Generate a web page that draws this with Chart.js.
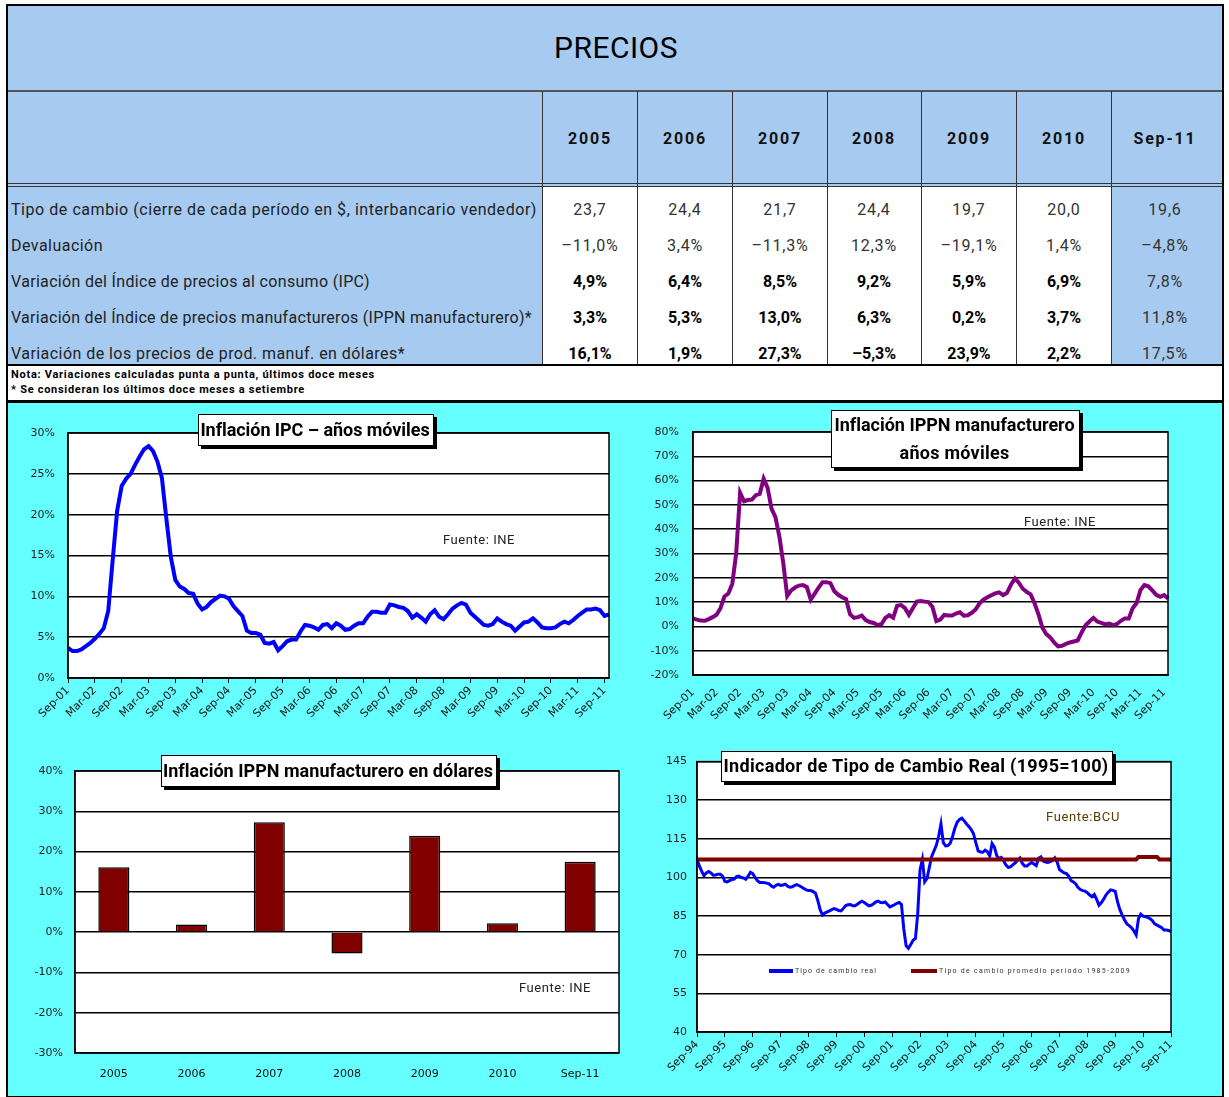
<!DOCTYPE html>
<html>
<head>
<meta charset="utf-8">
<script src="https://cdn.jsdelivr.net/npm/chart.js@4.4.0/dist/chart.umd.min.js"></script>
<style>
  body { margin: 0; width: 1229px; height: 1097px; position: relative; background: #fff; overflow: hidden; font-family: Roboto, "Noto Sans", sans-serif; }
  canvas { position: absolute; }
</style>
</head>
<body>
<script>
// ---- tabla ----
const years = ["2005", "2006", "2007", "2008", "2009", "2010", "Sep-11"];
const rowLabels = [
  "Tipo de cambio (cierre de cada período en $, interbancario vendedor)",
  "Devaluación",
  "Variación del Índice de precios al consumo (IPC)",
  "Variación del Índice de precios manufactureros (IPPN manufacturero)*",
  "Variación de los precios de prod. manuf. en dólares*"
];
const tipoCambio = [23.7, 24.4, 21.7, 24.4, 19.7, 20.0, 19.6];
const devaluacion = [-11.0, 3.4, -11.3, 12.3, -19.1, 1.4, -4.8];
const ipcVar = [4.9, 6.4, 8.5, 9.2, 5.9, 6.9, 7.8];
const ippnVar = [3.3, 5.3, 13.0, 6.3, 0.2, 3.7, 11.8];
const ippnUsdVar = [16.1, 1.9, 27.3, -5.3, 23.9, 2.2, 17.5];
const notas = [
  "Nota: Variaciones calculadas punta a punta, últimos doce meses",
  "* Se consideran los últimos doce meses a setiembre"
];

// ---- series mensuales ----
// Inflación IPC, años móviles (%), Sep-01 .. Oct-11
const ipcAnual = [
  3.7, 3.3, 3.3, 3.5, 3.9, 4.3, 4.8, 5.4, 6.1, 8.2,
  14.5, 20.5, 23.5, 24.4, 25.0, 26.1, 27.1, 28.0, 28.4, 27.8,
  26.5, 24.5, 19.5, 14.8, 12.0, 11.2, 10.9, 10.4, 10.3, 9.1,
  8.4, 8.7, 9.3, 9.7, 10.1, 10.0, 9.7, 8.8, 8.2, 7.6,
  5.8, 5.5, 5.5, 5.3, 4.3, 4.2, 4.4, 3.4, 3.9, 4.5,
  4.7, 4.7, 5.7, 6.5, 6.4, 6.2, 5.9, 6.5, 6.6, 6.1,
  6.7, 6.4, 5.9, 6.0, 6.4, 6.7, 6.7, 7.5, 8.1, 8.1,
  8.0, 8.0, 9.0, 8.9, 8.7, 8.6, 8.2, 7.4, 7.8, 7.4,
  6.9, 7.8, 8.3, 7.5, 7.2, 7.8, 8.5, 8.9, 9.2, 9.0,
  8.0, 7.5, 7.0, 6.5, 6.4, 6.6, 7.3, 6.9, 6.6, 6.4,
  5.8, 6.3, 6.8, 6.9, 7.3, 6.8, 6.2, 6.1, 6.1, 6.2,
  6.6, 6.9, 6.7, 7.1, 7.6, 8.0, 8.4, 8.4, 8.5, 8.3,
  7.6, 7.8
];
// Inflación IPPN manufacturero, años móviles (%), Sep-01 .. Oct-11
const ippnAnual = [
  3.3, 2.8, 2.4, 2.3, 3.0, 3.8, 4.8, 7.5, 12.3, 13.5,
  17.5, 30.0, 55.0, 51.5, 52.0, 52.2, 54.0, 54.5, 60.8, 57.0,
  48.5, 45.0, 37.0, 26.0, 12.5, 14.8, 16.0, 16.8, 17.0, 16.2,
  11.0, 13.5, 16.0, 18.2, 18.2, 17.8, 14.5, 13.0, 12.0, 11.2,
  5.0, 3.5, 3.8, 4.4, 2.6, 1.8, 1.4, 0.6, 0.9, 3.5,
  4.6, 3.6, 8.5, 8.8, 7.5, 4.8, 7.5, 10.2, 10.4, 10.2,
  10.0, 8.0, 2.2, 2.8, 4.7, 4.5, 4.5, 5.3, 5.8, 4.4,
  4.6, 5.6, 7.0, 9.5, 11.0, 12.0, 12.8, 13.6, 14.0, 12.9,
  13.8, 17.2, 19.7, 18.0, 15.5, 14.2, 13.2, 9.5, 5.0, -0.5,
  -3.2, -4.5, -6.6, -8.2, -8.0, -7.2, -6.6, -6.2, -5.8, -2.5,
  0.5, 2.0, 3.5, 2.0, 1.4, 0.8, 1.2, 0.5, 1.0, 2.3,
  3.3, 3.3, 7.5, 9.6, 15.0, 17.0, 16.5, 14.8, 13.0, 12.2,
  12.9, 11.5
];
// Indicador de tipo de cambio real (1995=100), Sep-94 .. Sep-11
const tcReal = [
  107, 104.5, 102.5, 100.7, 101.8, 102.3, 101.8, 100.9, 101.0, 101.3,
  101.3, 100.5, 98.5, 98.3, 98.8, 99.2, 99.4, 100.3, 100.5, 100,
  99.8, 99.3, 100.5, 102.0, 101.5, 100, 98.8, 98.1, 98.1, 98.0,
  97.8, 97.5, 96.7, 96.2, 97.0, 97.3, 96.9, 97.1, 97.4, 96.6,
  96.2, 96.4, 96.9, 97.2, 96.8, 96.3, 95.7, 95.2, 94.9, 94.9,
  94.5, 93.9, 91.0, 87.5, 85.4, 86.2, 86.6, 87.0, 87.5, 87.9,
  87.6, 87.2, 87.0, 88.0, 89.1, 89.4, 89.5, 89.0, 89.0, 89.6,
  90.3, 90.8, 90.3, 89.6, 89.0, 89.2, 89.8, 90.5, 90.8, 90.3,
  90.2, 90.5, 89.5, 88.6, 89.0, 89.4, 90.0, 90.3, 89.5, 80.0,
  73.5, 72.5, 74.0, 75.6, 76.3, 86.0, 103.0, 107.0, 98.3, 99.6,
  104.0, 108.2, 110.3, 112.5, 116.0, 120.8, 113.5, 112.3, 112.4, 113.3,
  116.0, 119.2, 121.5, 122.5, 123.0, 122.0, 120.8, 119.8, 118.6, 117.0,
  113.5, 110.3, 109.9, 109.8, 110.6, 110.0, 108.3, 113.2, 111.8, 108.5,
  107.3, 107.8, 106.4, 104.8, 103.9, 104.2, 105.0, 105.7, 106.8, 107.6,
  105.5, 104.5, 104.5, 105.2, 105.8, 105.2, 104.6, 107.5, 108.0, 106.4,
  106.0, 105.8, 106.2, 106.6, 107.6, 106.0, 103.1, 102.4, 101.8, 101.5,
  100.5, 98.8, 98.3, 97.5, 96.1, 95.3, 94.9, 94.7, 94.1, 93.2,
  92.5, 93.4, 91.5, 89.2, 90.2, 91.6, 93.2, 94.3, 95.2, 95.0,
  94.6, 90.5, 87.5, 85.4, 83.5, 82.0, 81.3, 80.5, 79.3, 77.7,
  84.0, 85.8, 85.0, 84.7, 84.5, 84.0, 83.2, 82.0, 81.5, 81.0,
  80.5, 79.6, 79.6, 79.4, 79.0
];
// Tipo de cambio promedio período 1985-2009
const tcPromedio = [
  107, 107, 107, 107, 107, 107, 107, 107, 107, 107, 107, 107, 107, 107, 107, 107, 107, 107, 107,
  107, 107, 107, 107, 107, 107, 107, 107, 107, 107, 107, 107, 107, 107, 107, 107, 107, 107, 107,
  107, 107, 107, 107, 107, 107, 107, 107, 107, 107, 107, 107, 107, 107, 107, 107, 107, 107, 107,
  107, 107, 107, 107, 107, 107, 107, 107, 107, 107, 107, 107, 107, 107, 107, 107, 107, 107, 107,
  107, 107, 107, 107, 107, 107, 107, 107, 107, 107, 107, 107, 107, 107, 107, 107, 107, 107, 107,
  107, 107, 107, 107, 107, 107, 107, 107, 107, 107, 107, 107, 107, 107, 107, 107, 107, 107, 107,
  107, 107, 107, 107, 107, 107, 107, 107, 107, 107, 107, 107, 107, 107, 107, 107, 107, 107, 107,
  107, 107, 107, 107, 107, 107, 107, 107, 107, 107, 107, 107, 107, 107, 107, 107, 107, 107, 107,
  107, 107, 107, 107, 107, 107, 107, 107, 107, 107, 107, 107, 107, 107, 107, 107, 107, 107, 107,
  107, 107, 107, 107, 107, 107, 107, 107, 107, 107, 107, 107, 107, 107, 107, 107, 107, 107, 107,
  108, 108, 108, 108, 108, 108, 108, 108, 108,
  107, 107, 107, 107, 107, 107
];

const mesesAbr = ["Ene", "Feb", "Mar", "Abr", "May", "Jun", "Jul", "Ago", "Sep", "Oct", "Nov", "Dic"];
function mesesDesde(anio, mes, n) {
  const out = [];
  for (let i = 0; i < n; i++) {
    const m = (mes + i) % 12;
    const a = anio + Math.floor((mes + i) / 12);
    out.push(mesesAbr[m] + "-" + String(a % 100).padStart(2, "0"));
  }
  return out;
}
const mesesIpc = mesesDesde(2001, 8, ipcAnual.length);
const mesesTcr = mesesDesde(1994, 8, tcReal.length);

// ---- helpers ----
const BLUE = "#a6caf0";
const CYAN = "#66ffff";

function put(css, text) {
  const el = document.createElement("div");
  el.style.cssText = "position:absolute;" + css;
  if (text != null) el.textContent = text;
  document.body.appendChild(el);
  return el;
}
function rect(x, y, w, h, bg) {
  return put(`left:${x}px;top:${y}px;width:${w}px;height:${h}px;background:${bg}`);
}
function label(text, x, y, css, align, fitW) {
  const el = put(`left:${x}px;top:${y}px;white-space:nowrap;line-height:1.15;${css}`, text);
  if (fitW) {
    const w0 = el.getBoundingClientRect().width;
    el.style.letterSpacing = ((fitW - w0) / text.length) + "px";
  }
  const r = el.getBoundingClientRect();
  const dx = align === "center" ? -r.width / 2 : align === "right" ? -r.width : 0;
  el.style.left = (x + dx) + "px";
  el.style.top = (y - r.height / 2) + "px";
  return el;
}
const fmt = (v, pct) => (v < 0 ? "–" : "") + Math.abs(v).toFixed(1).replace(".", ",") + (pct ? "%" : "");

// ---- fondo de la tabla ----
rect(7, 5, 1215, 181, BLUE);
rect(7, 186, 535, 179, BLUE);
rect(542, 186, 569, 179, "#fff");
rect(1111, 186, 111, 179, BLUE);
rect(7, 365, 1215, 36, "#fff");
rect(7, 401, 1215, 695, CYAN);

// líneas
rect(7, 90, 1215, 1.5, "#555");
rect(7, 183, 1215, 1, "#333");
rect(7, 186, 1215, 1, "#333");
[542, 637, 732, 827, 921, 1016, 1111].forEach(x => rect(x, 91, 1, 274, "#333"));
rect(7, 364, 1215, 2, "#000");
rect(7, 400, 1215, 2.5, "#000");
put("left:6px;top:4px;width:1214px;height:1090px;border:2px solid #000");

// textos de la tabla
label("PRECIOS", 616, 48, "font-size:30px;font-weight:400;color:#000", "center", 124);
const colCenters = [590, 685, 780, 874, 969, 1064, 1165];
years.forEach((y, i) => label(y, colCenters[i], 139, "font-size:16px;font-weight:bold;color:#111", "center", y === "Sep-11" ? 63 : 44));
const rowY = [210, 246, 282, 318, 354];
const rowFit = [526, 92, 359, 521, 394];
rowLabels.forEach((t, i) => label(t, 11, rowY[i], "font-size:16px;color:#222", "left", rowFit[i]));
const tableRows = [[tipoCambio, false], [devaluacion, true], [ipcVar, true], [ippnVar, true], [ippnUsdVar, true]];
tableRows.forEach(([vals, pct], r) => {
  vals.forEach((v, c) => {
    const bold = r >= 2 && c < 6;
    const css = bold ? "font-size:16px;font-weight:bold;color:#000;letter-spacing:0px"
                     : "font-size:16px;color:#333;letter-spacing:0.8px";
    label(fmt(v, pct), colCenters[c], rowY[r], css, "center");
  });
});
label(notas[0], 11, 375, "font-size:11px;font-weight:bold;color:#000", "left", 364);
label(notas[1], 11, 390, "font-size:11px;font-weight:bold;color:#000", "left", 294);

// ---- gráficos ----
const TICK_FONT = { family: "'DejaVu Sans', sans-serif", size: 11 };

const plotFrame = {
  id: "plotFrame",
  beforeDraw(chart) {
    const { ctx, chartArea: a } = chart;
    ctx.save();
    ctx.fillStyle = "#fff";
    ctx.fillRect(a.left, a.top, a.right - a.left, a.bottom - a.top);
    ctx.restore();
  },
  afterDatasetsDraw(chart) {
    const { ctx, chartArea: a } = chart;
    ctx.save();
    ctx.strokeStyle = "#000";
    ctx.lineWidth = 1.5;
    ctx.strokeRect(a.left, a.top, a.right - a.left, a.bottom - a.top);
    ctx.restore();
  }
};

function makeChart(box, plot, config) {
  const cv = document.createElement("canvas");
  cv.width = box.w;
  cv.height = box.h;
  cv.style.left = box.x + "px";
  cv.style.top = box.y + "px";
  document.body.appendChild(cv);
  const o = config.options;
  o.responsive = false;
  o.animation = false;
  o.layout = { padding: { left: 0, top: plot.top - box.y, right: box.x + box.w - plot.right, bottom: 0 } };
  o.plugins = { legend: { display: false }, tooltip: { enabled: false } };
  o.scales.y.afterFit = s => { s.width = plot.left - box.x; };
  o.scales.x.afterFit = s => { s.height = box.y + box.h - plot.bottom; };
  config.plugins = [plotFrame];
  return new Chart(cv.getContext("2d"), config);
}

function yAxis(min, max, step, suffix, pad) {
  return {
    min: min, max: max,
    ticks: { stepSize: step, padding: pad, color: "#222", font: TICK_FONT, callback: v => v + suffix },
    grid: { color: "#000", lineWidth: 1.5, drawTicks: false },
    border: { color: "#000", width: 1.5 }
  };
}
function xMonthly(every, tickMarks) {
  return {
    grid: { display: tickMarks, drawOnChartArea: false, drawTicks: true, tickLength: 5, color: "#000", lineWidth: 1 },
    border: { color: "#000", width: 1.5 },
    ticks: {
      autoSkip: false, minRotation: 45, maxRotation: 45, padding: tickMarks ? 1 : 6,
      color: "#111", font: TICK_FONT,
      callback: function (v, i) { return i % every === 0 ? this.getLabelForValue(v) : null; }
    }
  };
}

// 1. Inflación IPC
makeChart({ x: 10, y: 405, w: 612, h: 330 }, { left: 68, right: 609, top: 433, bottom: 678 }, {
  type: "line",
  data: { labels: mesesIpc, datasets: [{ data: ipcAnual, borderColor: "#0000ff", borderWidth: 4, pointRadius: 0, tension: 0 }] },
  options: { scales: { x: xMonthly(6, true), y: yAxis(0, 30, 5, "%", 13) } }
});

// 2. Inflación IPPN manufacturero
makeChart({ x: 622, y: 405, w: 600, h: 330 }, { left: 693, right: 1168, top: 432, bottom: 675 }, {
  type: "line",
  data: { labels: mesesIpc, datasets: [{ data: ippnAnual, borderColor: "#800080", borderWidth: 4, pointRadius: 0, tension: 0 }] },
  options: { scales: { x: xMonthly(6, false), y: yAxis(-20, 80, 10, "%", 14) } }
});

// 3. Inflación IPPN manufacturero en dólares
makeChart({ x: 10, y: 745, w: 612, h: 350 }, { left: 75, right: 619, top: 771, bottom: 1053 }, {
  type: "bar",
  data: { labels: years, datasets: [{ data: ippnUsdVar, backgroundColor: "#800000", borderColor: "#000", borderWidth: 1.5, barPercentage: 0.4, categoryPercentage: 1 }] },
  options: {
    scales: {
      x: { grid: { display: false }, border: { display: false }, ticks: { color: "#111", font: TICK_FONT, padding: 7, maxRotation: 0 } },
      y: yAxis(-30, 40, 10, "%", 12)
    }
  }
});

// 4. Tipo de cambio real
makeChart({ x: 625, y: 745, w: 595, h: 350 }, { left: 697, right: 1171, top: 758, bottom: 1032 }, {
  type: "line",
  data: {
    labels: mesesTcr,
    datasets: [
      { data: tcPromedio, borderColor: "#800000", borderWidth: 4, pointRadius: 0, tension: 0 },
      { data: tcReal, borderColor: "#0000ff", borderWidth: 3, pointRadius: 0, tension: 0 }
    ]
  },
  options: { scales: { x: xMonthly(12, true), y: yAxis(40, 145, 15, "", 10) } }
});

// ---- recuadros de título, fuentes y leyenda ----
function titleBox(x, y, w, h, lines, fits) {
  put(`left:${x}px;top:${y}px;width:${w}px;height:${h}px;background:#fff;border:1px solid #000;box-shadow:3px 3px 0 #000`);
  const lh = h / lines.length;
  lines.forEach((t, i) => label(t, x + w / 2, y + lh * (i + 0.5) + 1, "font-size:18px;font-weight:bold;color:#000", "center", fits[i]));
}
titleBox(198, 414, 234, 30, ["Inflación IPC – años móviles"], [229]);
titleBox(831, 410, 247, 56, ["Inflación IPPN manufacturero", "años móviles"], [240, 110]);
titleBox(161, 755, 334, 30, ["Inflación IPPN manufacturero en dólares"], [330]);
titleBox(721, 751, 390, 29, ["Indicador de Tipo de Cambio Real (1995=100)"], [385]);

label("Fuente: INE", 443, 540, "font-size:13px;color:#222", "left", 72);
label("Fuente: INE", 1024, 522, "font-size:13px;color:#222", "left", 72);
label("Fuente: INE", 519, 988, "font-size:13px;color:#222", "left", 72);
label("Fuente:BCU", 1046, 817, "font-size:13px;color:#5a3b00", "left", 74);

rect(769, 969, 24, 4, "#0000ff");
label("Tipo de cambio real", 795, 971, "font-size:7px;color:#333", "left", 82);
rect(911, 969, 26, 4, "#800000");
label("Tipo de cambio promedio período 1985-2009", 939, 971, "font-size:7px;color:#333", "left", 192);
</script>
</body>
</html>
